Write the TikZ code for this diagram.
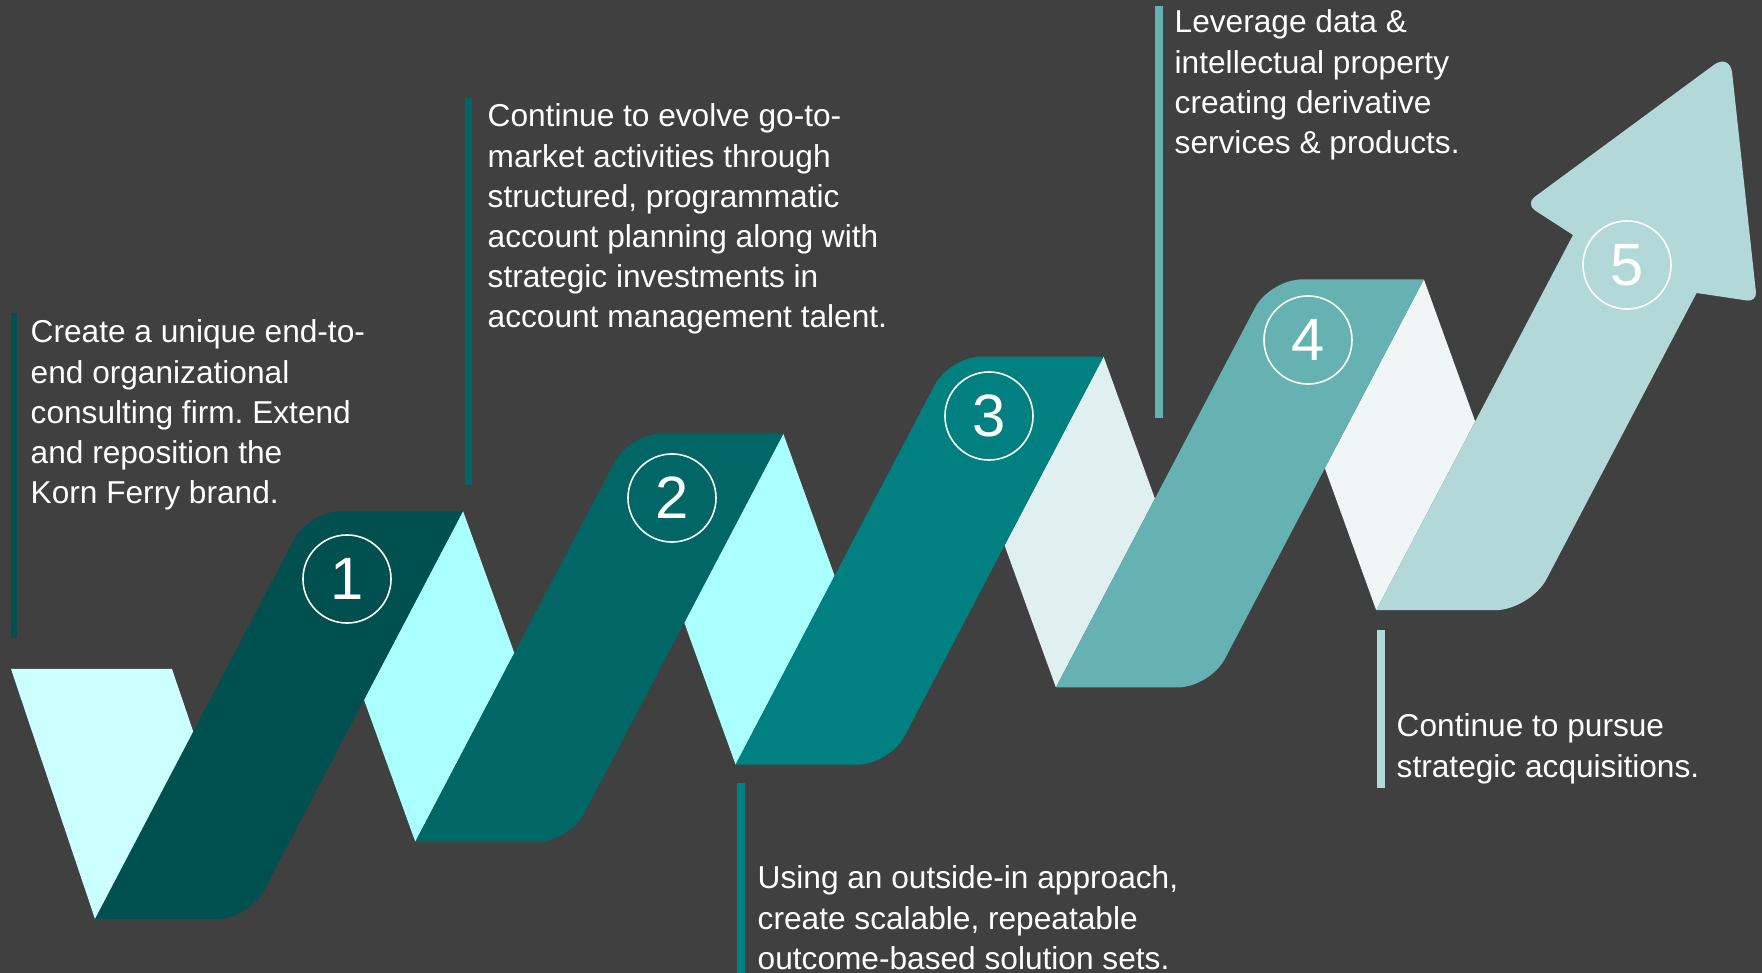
\documentclass[tikz,border=0pt]{standalone}
\usepackage{fontspec}
\setmainfont{Liberation Sans}
\usetikzlibrary{calc}
\definecolor{bg}{HTML}{404040}
\definecolor{rA}{HTML}{005050}
\definecolor{rB}{HTML}{006666}
\definecolor{rC}{HTML}{008080}
\definecolor{rD}{HTML}{66B2B2}
\definecolor{rE}{HTML}{B2D8D8}
\definecolor{fA}{HTML}{CCFFFF}
\definecolor{fB}{HTML}{AAFFFF}
\definecolor{fC}{HTML}{E0F0F0}
\definecolor{fD}{HTML}{F0F6F6}
\newcommand\rcorner[5]{-- ($(#2)!#4!(#1)$) .. controls ($(#2)!#5!(#1)$) and ($(#2)!#5!(#3)$) .. ($(#2)!#4!(#3)$)}
\frenchspacing
\begin{document}
\begin{tikzpicture}[x=0.01cm,y=-0.01cm,
  txt/.style={anchor=base west, inner sep=0pt, text=white, font=\fontsize{9}{11.38}\selectfont},
  num/.style={circle, draw=white, line width=0.45pt, minimum size=0.88cm, inner sep=0pt, text=white, font=\fontsize{17}{20}\selectfont}]
\useasboundingbox (0,0) rectangle (1762,973);
\clip (0,0) rectangle (1762,973);
\fill[bg] (0,0) rectangle (1762,973);
% ribbon corner coordinates
\foreach \i in {1,...,5} {
  \pgfmathsetmacro\bx{95+320.3*(\i-1)}
  \pgfmathsetmacro\by{919-77.2*(\i-1)}
  \coordinate (bl\i) at (\bx,\by);
  \coordinate (br\i) at (\bx+154,\by);
  \coordinate (tr\i) at (\bx+368,\by-408);
  \coordinate (tl\i) at (\bx+214,\by-408);
}
% folds
\fill[fA] (11,669) -- (172,669) -- (230,840) -- (bl1) -- cycle;
\foreach \i/\j/\c in {1/2/fB,2/3/fB,3/4/fC,4/5/fD}
  \fill[\c] (tr\i) -- ($(tr\i)+(51.3,142)$) -- (bl\j) -- ($(bl\j)-(51.3,142)$) -- cycle;
% ribbons
\foreach \i/\c in {1/rA,2/rB,3/rC,4/rD}
  \fill[\c] (bl\i) \rcorner{bl\i}{br\i}{tr\i}{0.32cm}{0.144cm} -- (tr\i) \rcorner{tr\i}{tl\i}{bl\i}{0.32cm}{0.144cm} -- cycle;
% arrow
\coordinate (arj) at (1696.6,293);
\coordinate (arb) at (1757,302);
\coordinate (atip) at (1730,53);
\coordinate (alb) at (1525,204);
\coordinate (alj) at (1573,235);
\fill[rE] (bl5) \rcorner{bl5}{br5}{arj}{0.35cm}{0.16cm} -- (arj)
  \rcorner{arj}{arb}{atip}{0.1cm}{0.045cm}
  \rcorner{arb}{atip}{alb}{0.2cm}{0.09cm}
  \rcorner{atip}{alb}{alj}{0.12cm}{0.054cm} -- (alj) -- cycle;
% numbers
\node[num] (c1) at (347,579) {1};
\node[num] (c2) at (672,498) {2};
\node[num] (c3) at (989,416) {3};
\node[num] (c4) at (1308,340) {4};
\node[num] (c5) at (1627,265) {5};
% bars
\fill[rA] (11,313) rectangle (17,638);
\fill[rB] (465,98) rectangle (472,485);
\fill[rC] (737,783) rectangle (745,980);
\fill[rD] (1155,6) rectangle (1163,418);
\fill[rE] (1377,630) rectangle (1385,788);
% texts
\node[txt] (t1) at (30,343) {\begin{tabular}[t]{@{}l@{}}Create a unique end-to-\\end organizational\\consulting firm. Extend\\and reposition the\\Korn Ferry brand.\end{tabular}};
\node[txt] (t2) at (487,127) {\begin{tabular}[t]{@{}l@{}}Continue to evolve go-to-\\market activities through\\structured, programmatic\\account planning along with\\strategic investments in\\account management talent.\end{tabular}};
\node[txt] (t3) at (757,889) {\begin{tabular}[t]{@{}l@{}}Using an outside-in approach,\\create scalable, repeatable\\outcome-based solution sets.\end{tabular}};
\node[txt] (t4) at (1174,33) {\begin{tabular}[t]{@{}l@{}}Leverage data \&\\intellectual property\\creating derivative\\services \& products.\end{tabular}};
\node[txt] (t5) at (1396,737) {\begin{tabular}[t]{@{}l@{}}Continue to pursue\\strategic acquisitions.\end{tabular}};
\end{tikzpicture}
\end{document}
